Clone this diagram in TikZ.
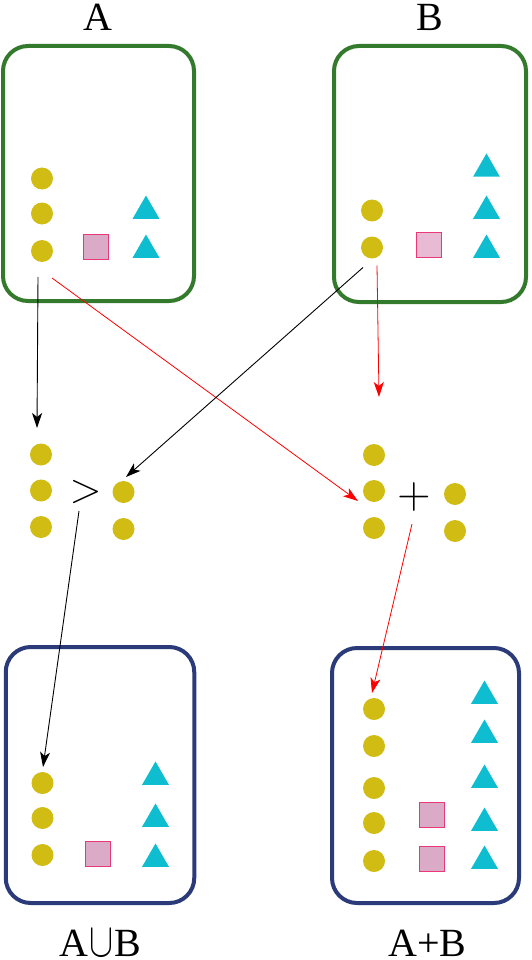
\documentclass[tikz,border=0pt]{standalone}
\usepackage{fix-cm}
\usepackage{fontspec}
\setmainfont{Liberation Serif}
\usetikzlibrary{arrows.meta,shapes.geometric}
\definecolor{setgreen}{RGB}{52,122,44}
\definecolor{setblue}{RGB}{43,59,122}
\definecolor{dotyellow}{RGB}{208,188,18}
\definecolor{tricyan}{RGB}{14,190,208}
\definecolor{sqpink}{RGB}{218,170,198}
\definecolor{sqpinkB}{RGB}{233,186,212}
\definecolor{sqedge}{RGB}{232,56,120}
\tikzset{
  setbox/.style={draw,line width=4pt,rounded corners=25pt,inner sep=0pt},
  greenbox/.style={setbox,draw=setgreen},
  bluebox/.style={setbox,draw=setblue},
  dotnode/.style={circle,fill=dotyellow,inner sep=0pt,minimum size=22pt},
  sqnode/.style={rectangle,fill=sqpink,draw=sqedge,line width=0.8pt,inner sep=0pt,minimum size=25pt},
  trinode/.style={regular polygon,regular polygon sides=3,fill=tricyan,inner sep=0pt,minimum size=31pt},
  setlabel/.style={font=\fontsize{40}{44}\selectfont,inner sep=0pt},
  opsign/.style={font=\fontsize{42}{46}\selectfont,inner sep=0pt},
  blkarrow/.style={draw=black,line width=0.9pt,-{Stealth[length=15pt,width=10pt,inset=4pt]}},
  redarrow/.style={draw=red,line width=0.8pt,-{Stealth[length=15pt,width=10pt,inset=4pt]}},
}
\newcommand{\dotcol}[3]{% name, x, list of y
  \foreach \y [count=\i] in {#3}{\node[dotnode] (#1\i) at (#2,\y) {};}}
\newcommand{\tricol}[3]{%
  \foreach \y [count=\i] in {#3}{\node[trinode] (#1\i) at (#2,\y) {};}}
\begin{document}
\begin{tikzpicture}[x=1pt,y=-1pt]
  \useasboundingbox (0,0) rectangle (531,960);
  % the two sets
  \node[greenbox,minimum width=191pt,minimum height=255pt] (boxA) at (98.5,173.5) {};
  \node[greenbox,minimum width=192pt,minimum height=256pt] (boxB) at (430,174) {};
  \node[setlabel] (labA) at (98,17) {A};
  \node[setlabel] (labB) at (429.5,17) {B};
  \dotcol{dA}{42}{178.5,213.5,251}
  \node[sqnode] (sqA) at (96,247) {};
  \tricol{tA}{146}{211,250}
  \dotcol{dB}{372}{210.5,247.5}
  \node[sqnode,fill=sqpinkB] (sqB) at (428.5,245) {};
  \tricol{tB}{486.5}{169,211,250}
  % comparing and adding
  \dotcol{uA}{41}{454.5,490.5,527}
  \node[opsign] (gt) at (85.5,491.5) {$>$};
  \dotcol{uB}{123.5}{492,529}
  \dotcol{pA}{374}{455,491,528}
  \node[opsign,font=\fontsize{46}{50}\selectfont] (plus) at (414,497) {$+$};
  \dotcol{pB}{455}{494,531}
  % results
  \node[bluebox,minimum width=188.5pt,minimum height=256pt] (boxU) at (100,775) {};
  \node[bluebox,minimum width=187pt,minimum height=255pt] (boxS) at (425.5,775.5) {};
  \dotcol{dU}{42.5}{783,818,855}
  \node[sqnode] (sqU) at (97.5,854) {};
  \tricol{tU}{155.5}{777,819,859}
  \dotcol{dS}{374}{709,746,788,823,861}
  \node[sqnode] (sqS1) at (431.5,814.5) {};
  \node[sqnode] (sqS2) at (431.5,858.5) {};
  \tricol{tS}{484.5}{696,735,780,823,861}
  \node[setlabel] (labU) at (100,943) {A\kern1pt\scalebox{0.9}[1.2]{$\cup$}\kern1pt B};
  \node[setlabel] (labS) at (427.5,943) {A+B};
  % arrows
  \draw[blkarrow] ([shift={(-4,26)}]dA3.center) -- ([shift={(-4,-26.5)}]uA1.center);
  \draw[redarrow] ([shift={(10,27)}]dA3.center) -- ([shift={(-16,10)}]pA2.center);
  \draw[blkarrow] ([shift={(-9,20)}]dB2.center) -- ([shift={(2.5,-15)}]uB1.center);
  \draw[redarrow] ([shift={(5,18)}]dB2.center) -- ([shift={(5,-58)}]pA1.center);
  \draw[blkarrow] ([shift={(-6.5,19.5)}]gt.center) -- ([shift={(0.5,-16)}]dU1.center);
  \draw[redarrow] ([shift={(-2,27)}]plus.center) -- ([shift={(-2,-16)}]dS1.center);
\end{tikzpicture}
\end{document}
